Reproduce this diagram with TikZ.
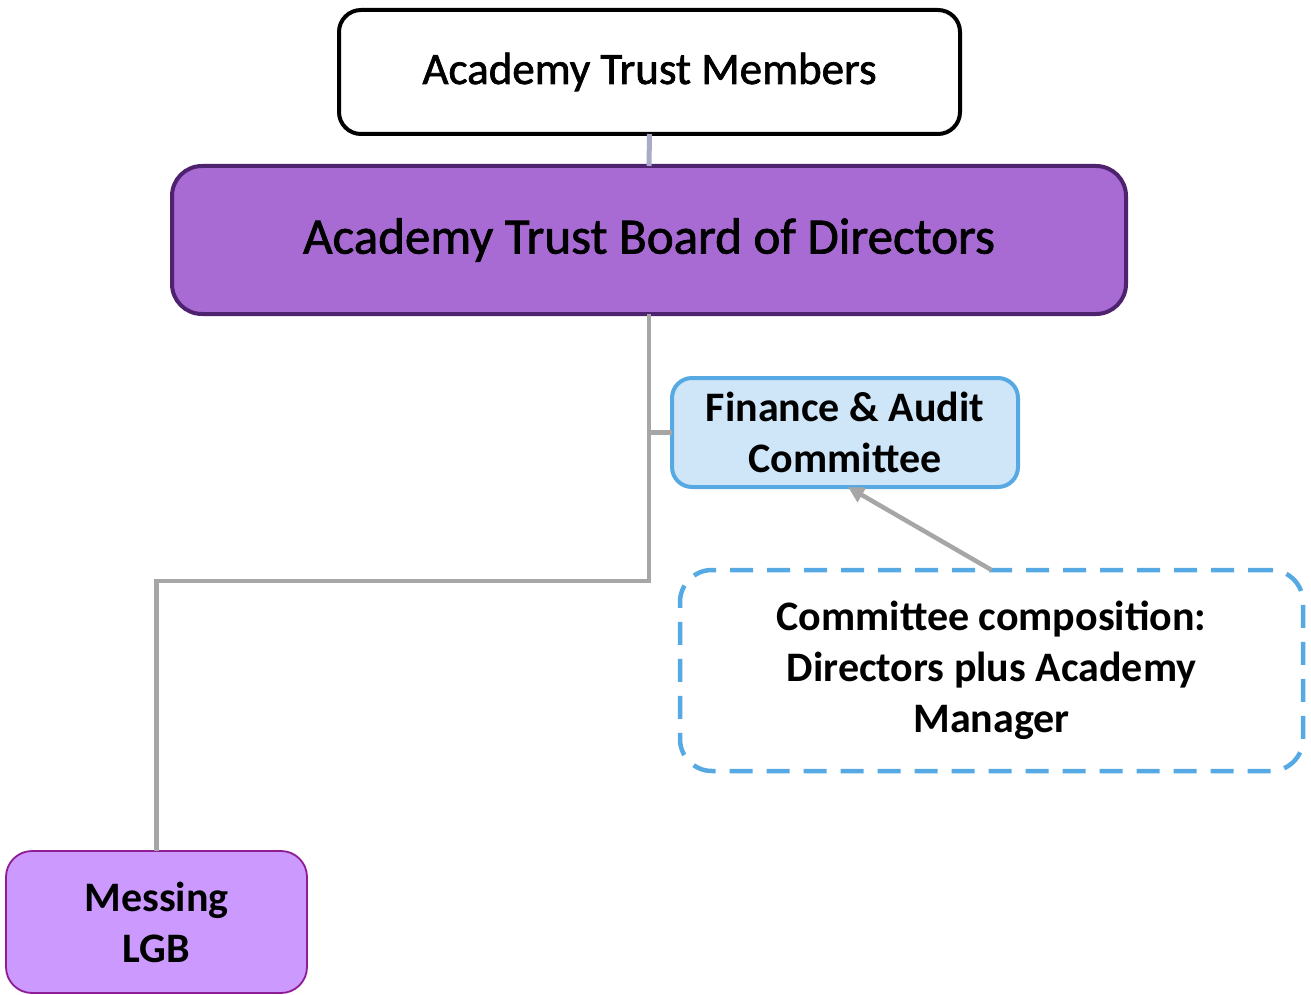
\documentclass[tikz,border=0pt]{standalone}
\usepackage{fontspec}
\setmainfont{Carlito}
\newfontfamily\medfont{Carlito}[BoldFont={Carlito}, BoldFeatures={FakeBold=1.5}]
\usetikzlibrary{arrows.meta}
\definecolor{boardfill}{HTML}{A86BD3}
\definecolor{boardline}{HTML}{4F2270}
\definecolor{finfill}{HTML}{CFE5F8}
\definecolor{finline}{HTML}{56A9E2}
\definecolor{lgbfill}{HTML}{CC99FF}
\definecolor{lgbline}{HTML}{8E1C94}
\definecolor{conn}{HTML}{A6A6A6}
\definecolor{topconn}{HTML}{A9AAC8}
\tikzset{
  box/.style={rectangle, rounded corners=#1, align=center, inner sep=0pt, outer sep=0pt},
  box/.default=20pt,
  txt/.style={font=\fontsize{42}{51}\selectfont\bfseries},
  grayline/.style={draw=conn, line width=4.5pt},
}
\begin{document}
\begin{tikzpicture}[x=1pt,y=-1pt]
\useasboundingbox (0,0) rectangle (1311,995);
\node[box=22pt, draw=black, line width=4pt, fill=white, minimum width=621pt, minimum height=124pt,
  font=\fontsize{45}{52}\medfont\bfseries] (mem) at (649.5,72) {\raisebox{-2pt}{Academy Trust Members}};
\node[box=30pt, draw=boardline, line width=4pt, fill=boardfill, minimum width=954pt, minimum height=148pt,
  font=\fontsize{51}{60}\medfont\bfseries] (board) at (649,240) {\raisebox{-2pt}{Academy Trust Board of Directors}};
\node[box=20pt, draw=finline, line width=4pt, fill=finfill, minimum width=346pt, minimum height=109pt, txt]
  (fin) at (845,432.5) {Finance \& Audit\\Committee};
\node[box=32pt, draw=finline, line width=4.5pt, dash pattern=on 23pt off 14pt, minimum width=623pt, minimum height=201pt, txt]
  (comp) at (991.5,670.5) {Committee composition:\\Directors plus Academy\\Manager};
\node[box=26pt, draw=lgbline, line width=1.8pt, fill=lgbfill, minimum width=301pt, minimum height=142pt, txt]
  (lgb) at (156.5,922) {Messing\\LGB};
\draw[draw=topconn, line width=5pt] (mem.south) -- (board.north);
\coordinate (j) at (board.south |- 0,581);
\coordinate (b) at (board.south |- fin.west);
\draw[grayline] (board.south) -- (j) -| (lgb.north);
\draw[grayline] (b) -- (fin.west);
\coordinate (tip) at ([xshift=3pt]fin.south);
\draw[grayline, -{Triangle[length=16pt,width=16pt]}] (comp.north) -- (tip);
\end{tikzpicture}
\end{document}
